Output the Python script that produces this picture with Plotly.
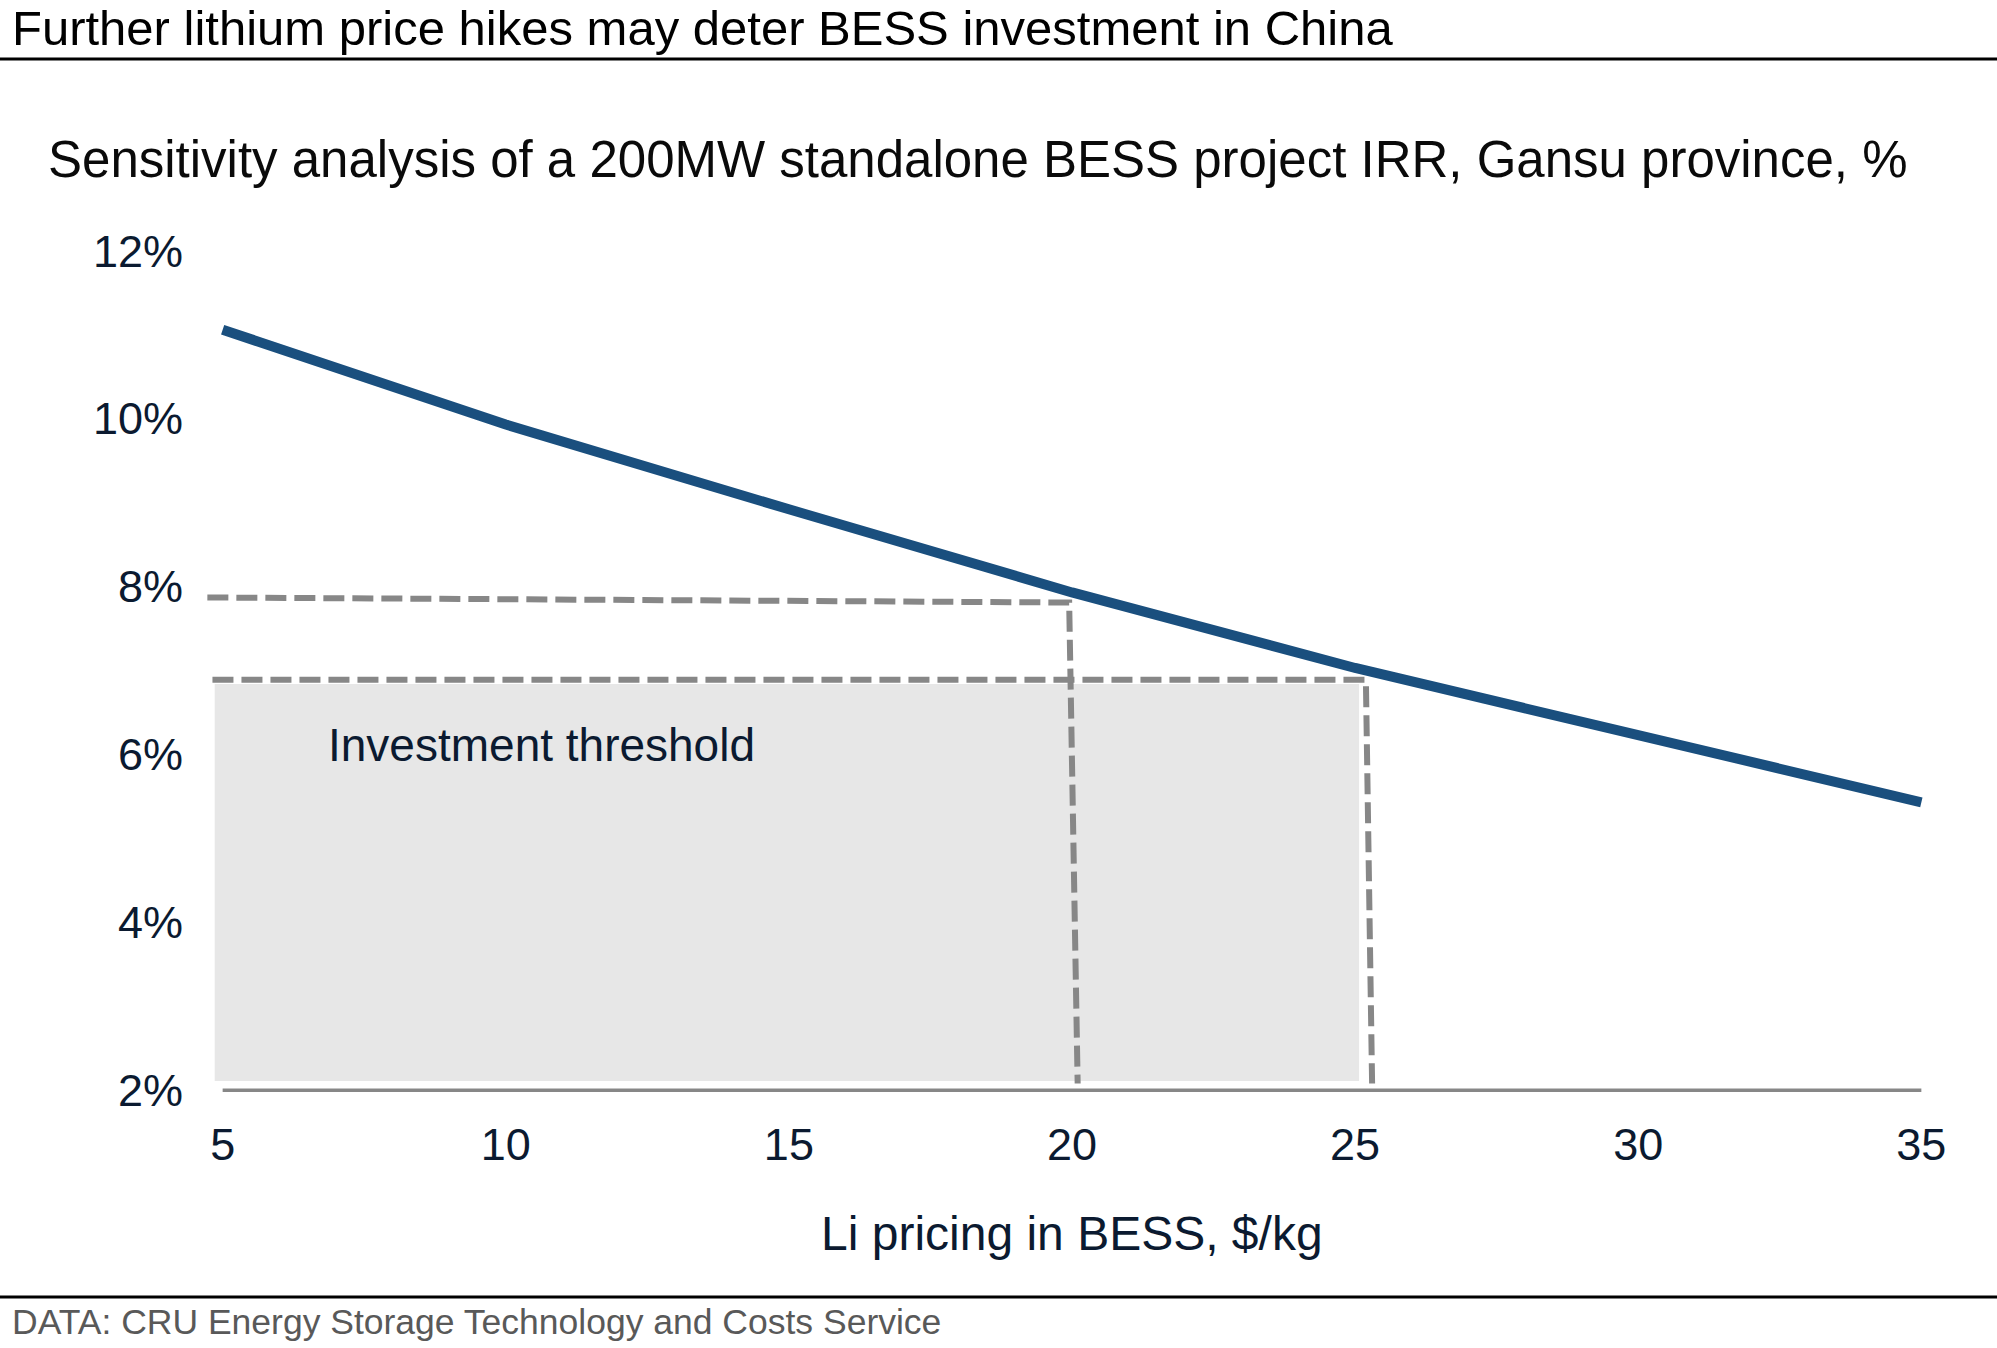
import plotly.graph_objects as go

# ---- data ----
li_price = [5, 10, 15, 20, 25, 30, 35]
irr_pct = [11.06, 9.93, 8.92, 7.93, 7.03, 6.23, 5.43]

x_ticks = [5, 10, 15, 20, 25, 30, 35]
y_ticks = [2, 4, 6, 8, 10, 12]
y_tick_labels = ["2%", "4%", "6%", "8%", "10%", "12%"]

# reference guides (hand-drawn dashed lines in the original)
guide1_x = [4.73, 19.95, 20.1]
guide1_y = [7.87, 7.81, 2.08]
guide2_x = [4.82, 25.19, 25.3]
guide2_y = [6.89, 6.89, 2.08]

threshold_box_x = [4.86, 25.07]
threshold_box_y = [2.11, 6.84]
threshold_label = "Investment threshold"
threshold_label_pos = [6.82, 6.11]

baseline_x = [5, 35]
baseline_y = [2, 2]

title = "Further lithium price hikes may deter BESS investment in China"
subtitle = "Sensitivity analysis of a 200MW standalone BESS project IRR, Gansu province, %"
x_title = "Li pricing in BESS, $/kg"
source = "DATA: CRU Energy Storage Technology and Costs Service"

# ---- layout geometry ----
W, H = 1997, 1348
ML, MR, MT, MB = 200, 53, 234, 241
FONT = "Arial, Liberation Sans, sans-serif"
NAVY_TXT = "#0b1a30"
GRAY = "#878787"


def px_x(p):
    return (p - ML) / (W - ML - MR)


def px_y(p):
    return (H - MB - p) / (H - MT - MB)


fig = go.Figure()

# dashed guides
for gx, gy in [(guide1_x, guide1_y), (guide2_x, guide2_y)]:
    fig.add_trace(go.Scatter(x=gx, y=gy, mode="lines",
                             line=dict(color=GRAY, width=6, dash="21px,8px"),
                             hoverinfo="skip", showlegend=False))

# baseline axis
fig.add_trace(go.Scatter(x=baseline_x, y=baseline_y, mode="lines",
                         line=dict(color=GRAY, width=3.5),
                         hoverinfo="skip", showlegend=False))

# main line
fig.add_trace(go.Scatter(x=li_price, y=irr_pct, mode="lines",
                         line=dict(color="#1a4f7e", width=10),
                         showlegend=False))

fig.add_shape(type="rect", xref="x", yref="y",
              x0=threshold_box_x[0], x1=threshold_box_x[1],
              y0=threshold_box_y[0], y1=threshold_box_y[1],
              fillcolor="#e7e7e7", line=dict(width=0), layer="below")

annotations = [
    dict(text=threshold_label, x=threshold_label_pos[0], y=threshold_label_pos[1],
         xref="x", yref="y", xanchor="left", yanchor="middle", showarrow=False,
         font=dict(family=FONT, size=46, color=NAVY_TXT)),
    dict(text=title, x=px_x(10), y=px_y(28), xref="paper", yref="paper",
         xanchor="left", yanchor="middle", showarrow=False,
         font=dict(family=FONT, size=49, color="#000000")),
    dict(text=subtitle, x=px_x(46), y=px_y(159), xref="paper", yref="paper",
         xanchor="left", yanchor="middle", showarrow=False,
         font=dict(family=FONT, size=51, color="#0a0a0a")),
    dict(text=x_title, x=px_x(1072), y=px_y(1233), xref="paper", yref="paper",
         xanchor="center", yanchor="middle", showarrow=False,
         font=dict(family=FONT, size=48, color=NAVY_TXT)),
    dict(text=source, x=px_x(10), y=px_y(1322), xref="paper", yref="paper",
         xanchor="left", yanchor="middle", showarrow=False,
         font=dict(family=FONT, size=35.5, color="#595959")),
]

shapes_extra = [
    dict(type="line", xref="paper", yref="paper", x0=px_x(0), x1=px_x(W),
         y0=px_y(59), y1=px_y(59), line=dict(color="#000000", width=3)),
    dict(type="line", xref="paper", yref="paper", x0=px_x(0), x1=px_x(W),
         y0=px_y(1297), y1=px_y(1297), line=dict(color="#000000", width=3)),
]
for s in shapes_extra:
    fig.add_shape(**s)

fig.update_layout(
    width=W, height=H,
    margin=dict(l=ML, r=MR, t=MT, b=MB, pad=0),
    paper_bgcolor="white", plot_bgcolor="white",
    annotations=annotations,
    showlegend=False,
    xaxis=dict(range=[4.6, 35.4], tickvals=x_ticks, showgrid=False, zeroline=False,
               showline=False, ticks="", ticklabelstandoff=7,
               tickfont=dict(family=FONT, size=45, color=NAVY_TXT)),
    yaxis=dict(range=[1.8, 12.2], tickvals=y_ticks, ticktext=y_tick_labels,
               showgrid=False, zeroline=False, showline=False, ticks="",
               ticklabelstandoff=16,
               tickfont=dict(family=FONT, size=45, color=NAVY_TXT)),
)

fig.write_html("out.html")
